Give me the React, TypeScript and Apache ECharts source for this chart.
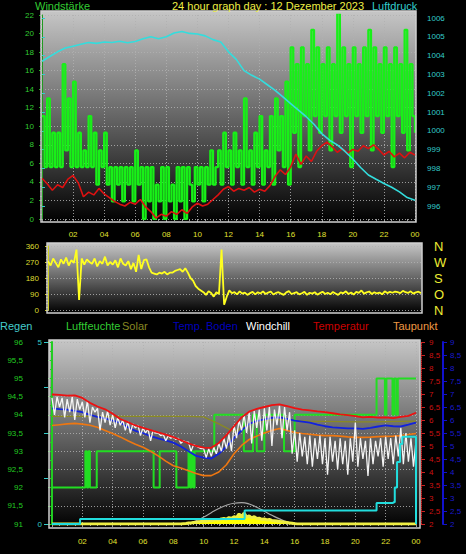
import { useEffect, useRef } from "react";
import * as echarts from "echarts";

const FONT = "'Liberation Sans', Arial, sans-serif";

const TITLE = "24 hour graph day : 12 Dezember 2023";
const X_LABELS = ["02", "04", "06", "08", "10", "12", "14", "16", "18", "20", "22", "00"];
const DIR_LABELS: Record<number, string> = { 0: "N", 90: "O", 180: "S", 270: "W", 360: "N" };

// Top panel: wind (Windstärke) every 10 min, from 00:00
const WIND_GUST = [
  11.1, 5.6, 13, 5.6, 9.3, 5.6,
  9.3, 5.6, 16.7, 7.4, 13, 5.6,
  14.8, 5.6, 9.3, 5.6, 7.4, 5.6,
  11.1, 5.6, 9.3, 3.7, 7.4, 5.6,
  9.3, 3.7, 5.6, 1.9, 5.6, 3.7,
  5.6, 1.9, 5.6, 3.7, 5.6, 1.9,
  7.4, 3.7, 5.6, 0, 5.6, 1.9,
  5.6, 0, 3.7, 1.9, 5.6, 0,
  5.6, 1.9, 3.7, 0, 5.6, 1.9,
  5.6, 0, 5.6, 3.7, 1.9, 5.6,
  3.7, 5.6, 1.9, 5.6, 3.7, 7.4,
  3.7, 5.6, 7.4, 3.7, 9.3, 5.6,
  7.4, 3.7, 9.3, 5.6, 7.4, 3.7,
  13, 5.6, 7.4, 3.7, 9.3, 5.6,
  11.1, 3.7, 7.4, 5.6, 11.1, 3.7,
  13, 7.4, 11.1, 5.6, 14.8, 3.7,
  18.5, 9.3, 16.7, 5.6, 18.5, 11.1,
  16.7, 7.4, 20.4, 11.1, 18.5, 9.3,
  16.7, 11.1, 18.5, 7.4, 16.7, 11.1,
  22.2, 9.3, 18.5, 11.1, 16.7, 5.6,
  18.5, 11.1, 16.7, 9.3, 18.5, 11.1,
  20.4, 7.4, 18.5, 11.1, 16.7, 9.3,
  18.5, 11.1, 16.7, 5.6, 18.5, 11.1,
  16.7, 9.3, 20.4, 7.4, 16.7, 11.1,
  9.3,
];
// average wind every 20 min
const WIND_AVG = [
  4.4, 3.8, 3.1, 3.7, 3.4, 4.3, 4.7, 3.9, 2.4, 2.9, 2.6, 3.3,
  2.7, 2.3, 1.9, 1.6, 1.4, 1.8, 1.6, 2.1, 1.3, 0.8, 0.1, 0.5,
  0.3, 0.8, 0.5, 1.0, 0.6, 1.3, 1.7, 1.4, 1.6, 2.1, 2.6, 3.2,
  3.5, 3.0, 3.3, 3.1, 3.4, 2.9, 3.2, 3.0, 3.6, 4.6, 5.3, 4.8,
  5.6, 7.0, 5.9, 6.8, 6.2, 7.3, 7.9, 8.3, 7.8, 7.2, 7.6, 7.1,
  7.5, 7.3, 7.9, 7.6, 8.0, 7.5, 6.9, 7.3, 6.7, 7.1, 6.6, 7.2,
  6.9,
];
// Luftdruck every 30 min
const PRESSURE = [
  1003.7, 1003.95, 1004.2, 1004.4, 1004.5, 1004.6, 1004.7, 1004.65, 1004.72, 1004.7,
  1004.76, 1004.68, 1004.75, 1004.9, 1005.0, 1004.9, 1005.0, 1005.2, 1005.28, 1005.18,
  1005.15, 1005.05, 1004.85, 1004.72, 1004.2, 1003.8, 1003.2, 1002.95, 1002.75, 1002.45,
  1002.15, 1001.8, 1001.45, 1001.1, 1000.75, 1000.35, 999.85, 999.5, 999.25, 998.9,
  998.5, 998.05, 997.65, 997.42, 997.2, 997.0, 996.75, 996.45, 996.3,
];
// Wind direction every 10 min
const WIND_DIR = [
  275, 250, 290, 265, 240, 285,
  260, 295, 250, 280, 265, 340,
  56, 290, 255, 285, 270, 260,
  290, 245, 275, 260, 300, 250,
  270, 255, 280, 240, 290, 260,
  250, 275, 230, 265, 215, 310,
  230, 280, 285, 240, 210, 205,
  200, 210, 205, 215, 200, 210,
  210, 220, 225, 230, 215, 235,
  210, 180, 165, 135, 120, 110,
  100, 85, 105, 95, 75, 100,
  90, 340, 30, 75, 110, 95,
  100, 88, 105, 92, 98, 85,
  95, 102, 88, 100, 93, 105,
  90, 98, 104, 87, 96, 100,
  92, 85, 99, 106, 90, 95,
  100, 88, 94, 102, 85, 97,
  92, 100, 86, 95, 103, 90,
  97, 88, 101, 93, 85, 99,
  94, 105, 90, 98, 87, 102,
  96, 110, 92, 99, 104, 90,
  100, 93, 98, 88, 105, 95,
  102, 97, 104, 100, 95, 108,
  100, 96, 105, 92, 99, 103,
  95,
];

// Bottom panel, temperatures every 30 min
const TEMPERATUR = [
  6.98, 6.97, 6.94, 6.95, 6.85, 6.66, 6.52, 6.41, 6.24, 6.04,
  5.92, 5.79, 5.7, 5.61, 5.52, 5.44, 5.34, 5.22, 5.1, 5.0,
  4.94, 4.93, 5.12, 5.42, 5.76, 6.1, 6.32, 6.43, 6.5, 6.57,
  6.6, 6.53, 6.46, 6.4, 6.37, 6.33, 6.3, 6.26, 6.22, 6.19,
  6.15, 6.1, 6.12, 6.09, 6.1, 6.07, 6.12, 6.16, 6.28,
];
const TEMP_BODEN = [
  6.45, 6.42, 6.4, 6.35, 6.3, 6.2, 6.12, 6.06, 5.98, 5.9,
  5.72, 5.58, 5.5, 5.38, 5.29, 5.22, 5.13, 4.98, 4.8, 4.62,
  4.55, 4.52, 4.7, 4.98, 5.3, 5.6, 5.85, 5.96, 6.02, 6.08,
  6.1, 6.04, 5.98, 5.94, 5.9, 5.82, 5.76, 5.72, 5.7, 5.68,
  5.68, 5.66, 5.7, 5.75, 5.79, 5.76, 5.75, 5.82, 5.9,
];
const TAUPUNKT = [
  5.79, 5.82, 5.85, 5.87, 5.84, 5.8, 5.72, 5.6, 5.48, 5.35,
  5.2, 5.07, 4.95, 4.8, 4.62, 4.42, 4.24, 4.15, 4.05, 3.94,
  3.86, 3.86, 4.0, 4.28, 4.7, 5.02, 5.25, 5.38, 5.5, 5.6,
  5.67, 5.6, 5.52, 5.48, 5.45, 5.42, 5.4, 5.4, 5.38, 5.35,
  5.33, 5.33, 5.34, 5.36, 5.37, 5.38, 5.4, 5.44, 5.48,
];
// Windchill every 10 min
const WINDCHILL = [
  6.85, 6.2, 6.9, 6.5, 6.85, 6.1,
  6.8, 6.3, 6.9, 6.0, 6.8, 6.4,
  6.7, 6.1, 6.75, 5.9, 6.5, 6.3,
  6.45, 5.6, 6.3, 5.9, 6.35, 5.8,
  6.2, 5.7, 6.1, 5.8, 6.0, 5.6,
  5.95, 5.5, 5.85, 5.7, 5.8, 5.4,
  5.7, 5.5, 5.65, 5.2, 5.6, 5.5,
  5.5, 5.4, 5.45, 5.2, 5.4, 5.3,
  5.35, 5.25, 5.3, 5.1, 5.2, 5.15,
  5.15, 4.8, 5.05, 5.0, 4.95, 4.9,
  4.9, 4.55, 4.9, 4.6, 4.95, 4.7,
  5.1, 4.8, 5.3, 4.9, 5.45, 4.8,
  5.8, 5.3, 6.0, 5.6, 6.2, 5.5,
  6.3, 5.1, 6.35, 5.7, 6.4, 5.2,
  6.45, 5.6, 6.5, 5.0, 6.4, 5.8,
  6.55, 5.3, 6.5, 5.6, 6.3, 4.7,
  5.6, 4.4, 5.5, 4.6, 5.35, 4.3,
  5.4, 4.2, 5.3, 4.5, 5.4, 4.3,
  5.3, 3.9, 5.35, 4.4, 5.2, 4.1,
  5.3, 4.3, 5.2, 3.9, 5.3, 4.4,
  5.9, 4.2, 5.3, 4.5, 5.2, 3.85,
  5.3, 4.3, 5.2, 4.6, 5.3, 4.2,
  5.35, 4.5, 5.3, 4.3, 5.4, 4.6,
  5.7, 4.3, 5.5, 4.4, 5.3, 4.2,
  5.2,
];
// olive line, hourly
const SOLAR_LINE = [
  6.14, 6.14, 6.14, 6.14, 6.14, 6.14, 6.14, 6.14, 6.14, 6.14,
  6.12, 5.85, 5.55, 5.85, 5.98, 6.02, 5.98, 5.96, 5.95, 5.94,
  5.93, 5.93, 5.94, 5.95, 5.96,
];
// Luftfeuchte change points [hour] -> value
const HUM_T = [0, 2.2, 2.3, 2.4, 2.5, 2.95, 6.7, 7.1, 8.2, 9.0, 9.1, 9.2, 9.3, 9.4, 10.7, 12.65, 13.25, 13.5, 14.0, 15.3, 16.0, 21.4, 21.95, 22.05, 22.45, 22.55, 22.7, 22.8, 24];
const HUM_V = [92, 93, 92, 93, 92, 93, 92, 93, 92, 93, 92, 93, 92, 93, 94, 93, 94, 93, 94, 93, 94, 95, 94, 95, 94, 95, 94, 95, 95];
// Regen change points
const RAIN_T = [0, 1.85, 12.7, 21.4, 22.5, 22.6, 22.75, 22.95, 23.1, 23.95, 24];
const RAIN_V = [0, 0.14, 0.37, 0.58, 0.6, 1.0, 1.7, 2.2, 2.4, 2.4, 0];
// Solar radiation from 08:30 every 10 min (W/m²)
const SOLAR_START = 8.5;
const SOLAR = [
  0, 2, 3, 5, 6, 8, 10, 12, 14, 16, 15, 20,
  18, 22, 25, 22, 28, 30, 26, 35, 32, 40, 36, 55,
  42, 60, 38, 45, 34, 40, 30, 32, 26, 28, 22, 25,
  20, 18, 16, 14, 12, 10, 8, 6, 4, 2, 0,
];
// theoretical max solar from 08:30 every 30 min
const SOLAR_MAX = [0, 4, 18, 38, 62, 85, 103, 114, 117, 110, 92, 70, 48, 28, 12, 2, 0];

const pts = (vals: number[], start: number, step: number) => vals.map((v, i) => [start + i * step, v]);
const zip = (t: number[], v: number[]) => t.map((x, i) => [x, v[i]]);
const comma = (v: number) => String(v).replace(".", ",");
const plain = (v: number) => String(v);

const DOT = { color: "#b0b0b0", type: [1, 2] as any, width: 1, opacity: 0.85 };

function xAxis(gridIndex: number, show: boolean, margin: number, split: boolean) {
  return {
    type: "value", gridIndex, min: 0, max: 24, interval: 2, show,
    axisLine: { show: false },
    axisTick: { show: true, length: 3, lineStyle: { color: "#9a9a9a" } },
    minorTick: { show: true, splitNumber: 4, length: 2, lineStyle: { color: "#9a9a9a" } },
    axisLabel: {
      color: "#e0e030", fontSize: 8, fontFamily: FONT, margin,
      formatter: (v: number) => (v > 0 ? X_LABELS[v / 2 - 1] : ""),
    },
    splitLine: { show: split, lineStyle: DOT },
  };
}

export default function App() {
  const ref = useRef<HTMLDivElement>(null);
  useEffect(() => {
    const chart = echarts.init(ref.current!, null, { renderer: "svg" });
    const grad = () =>
      new echarts.graphic.LinearGradient(0, 0, 0, 1, [
        { offset: 0, color: "#c6c6c6" },
        { offset: 0.55, color: "#5c5c5c" },
        { offset: 1, color: "#000000" },
      ]);
    const bg = (x: number, y: number, w: number, h: number) => ({
      type: "rect", z: -10, silent: true, shape: { x, y, width: w, height: h }, style: { fill: grad() },
    });
    const frame = (x: number, y: number, w: number, h: number) => ({
      type: "rect", z: 50, silent: true, shape: { x, y, width: w, height: h },
      style: { fill: "none", stroke: "#cfcfcf", lineWidth: 1.5 },
    });
    const txt = (text: string, x: number, y: number, color: string, size = 11) => ({
      type: "text", x, y, silent: true, z: 60,
      style: { text, fill: color, font: `${size}px ${FONT}`, textAlign: "left", textVerticalAlign: "middle", align: "left", verticalAlign: "middle" },
    });

    const lineS = (name: string, xi: number, yi: number, data: any[], color: string, width: number, extra: any = {}) => ({
      name, type: "line", xAxisIndex: xi, yAxisIndex: yi, data, showSymbol: false, symbol: "none",
      silent: true, lineStyle: { color, width }, itemStyle: { color }, ...extra,
    });

    const option: any = {
      animation: false,
      backgroundColor: "#000000",
      textStyle: { fontFamily: FONT },
      grid: [
        { left: 42, top: 15, width: 373, height: 204, outerBoundsMode: "none", containLabel: false },
        { left: 42, top: 18, width: 373, height: 188, outerBoundsMode: "none", containLabel: false },
        { left: 48, top: 246, width: 373, height: 64, outerBoundsMode: "none", containLabel: false },
        { left: 52, top: 342, width: 364, height: 182, outerBoundsMode: "none", containLabel: false },
      ],
      xAxis: [
        xAxis(0, true, 11, true),
        { ...xAxis(1, false, 0, false) },
        { ...xAxis(2, false, 0, false) },
        xAxis(3, true, 13, true),
      ],
      yAxis: [
        {
          type: "value", gridIndex: 0, min: 0, max: 22, interval: 2, position: "left", offset: 2,
          axisLine: { show: true, lineStyle: { color: "#229922", width: 1 } },
          axisTick: { show: true, length: 3, lineStyle: { color: "#22aa22" } },
          minorTick: { show: true, splitNumber: 4, length: 2, lineStyle: { color: "#229922" } },
          axisLabel: { color: "#33cc33", fontSize: 8, fontFamily: FONT, margin: 6, formatter: plain },
          splitLine: { show: true, lineStyle: DOT },
        },
        {
          type: "value", gridIndex: 1, min: 996, max: 1006, interval: 1, position: "right", offset: 4,
          axisLine: { show: false },
          axisTick: { show: true, length: 3, lineStyle: { color: "#33cccc" } },
          axisLabel: { color: "#33cccc", fontSize: 8, fontFamily: FONT, margin: 8, formatter: plain },
          splitLine: { show: false },
        },
        {
          type: "value", gridIndex: 2, min: 0, max: 360, interval: 90, position: "left", offset: 3,
          axisLine: { show: true, lineStyle: { color: "#cccc22", width: 1 } },
          axisTick: { show: true, length: 3, lineStyle: { color: "#cccc22" } },
          minorTick: { show: true, splitNumber: 5, length: 2, lineStyle: { color: "#aaaa22" } },
          axisLabel: { color: "#dddd30", fontSize: 8, fontFamily: FONT, margin: 6, formatter: plain },
          splitLine: { show: true, lineStyle: DOT },
        },
        {
          type: "value", gridIndex: 2, min: 0, max: 360, interval: 90, position: "right", offset: 0,
          axisLine: { show: false }, axisTick: { show: false },
          axisLabel: { color: "#eeee33", fontSize: 13, fontFamily: FONT, margin: 13, formatter: (v: number) => DIR_LABELS[v] ?? "" },
          splitLine: { show: false },
        },
        {
          type: "value", gridIndex: 3, min: 91, max: 96, interval: 0.5, position: "left", offset: 22,
          axisLine: { show: true, lineStyle: { color: "#22cc22", width: 2 } },
          axisTick: { show: true, length: 4, lineStyle: { color: "#22cc22" } },
          minorTick: { show: true, splitNumber: 2, length: 2, lineStyle: { color: "#22cc22" } },
          axisLabel: { color: "#22cc22", fontSize: 8, fontFamily: FONT, margin: 7, formatter: comma },
          splitLine: { show: true, lineStyle: DOT },
        },
        {
          type: "value", gridIndex: 3, min: 0, max: 5, interval: 1.25, position: "left", offset: 4,
          axisLine: { show: false },
          axisTick: { show: true, length: 4, lineStyle: { color: "#33cccc" } },
          axisLabel: { color: "#33cccc", fontSize: 8, fontFamily: FONT, margin: 6, formatter: (v: number) => (v === 0 || v === 5 ? String(v) : "") },
          splitLine: { show: false },
        },
        {
          type: "value", gridIndex: 3, min: 2, max: 9, interval: 0.5, position: "right", offset: 5,
          axisLine: { show: true, lineStyle: { color: "#cc2222", width: 1, type: "dotted" } },
          axisTick: { show: true, length: 4, lineStyle: { color: "#cc2222" } },
          axisLabel: { color: "#cc1111", fontSize: 8, fontFamily: FONT, margin: 8, formatter: comma },
          splitLine: { show: false },
        },
        {
          type: "value", gridIndex: 3, min: 2, max: 9, interval: 0.5, position: "right", offset: 27,
          axisLine: { show: true, lineStyle: { color: "#1111cc", width: 2 } },
          axisTick: { show: true, length: 4, lineStyle: { color: "#1111cc" } },
          axisLabel: { color: "#1a1acc", fontSize: 8, fontFamily: FONT, margin: 7, formatter: comma },
          splitLine: { show: false },
        },
        { type: "value", gridIndex: 3, min: 0, max: 1000, show: false, splitLine: { show: false } },
      ],
      series: [
        lineS("Windböen", 0, 0, pts(WIND_GUST, 0, 1 / 6), "#18f018", 2.3, { step: "end" }),
        lineS("Wind", 0, 0, pts(WIND_AVG, 0, 1 / 3), "#dd1111", 1.6),
        lineS("Luftdruck", 1, 1, pts(PRESSURE, 0, 0.5), "#33dddd", 1.6),
        lineS("Windrichtung", 2, 2, pts(WIND_DIR, 0, 1 / 6), "#ffff20", 1.8),
        lineS("SolarMax", 3, 8, pts(SOLAR_MAX, SOLAR_START, 0.5), "#a8a8a8", 1.2, { smooth: true }),
        lineS("Solar", 3, 8, [[0, 0], ...pts(SOLAR, SOLAR_START, 1 / 6), [24, 0]], "#eeee44", 3, {
          areaStyle: { color: "#ffff00", opacity: 1 },
        }),
        lineS("Luftfeuchte", 3, 4, zip(HUM_T, HUM_V), "#22dd22", 2, { step: "end" }),
        lineS("SolarLinie", 3, 6, pts(SOLAR_LINE, 0, 1), "#8a8a20", 1.2),
        lineS("Taupunkt", 3, 6, pts(TAUPUNKT, 0, 0.5), "#ee7711", 1.6),
        lineS("Temp. Boden", 3, 7, pts(TEMP_BODEN, 0, 0.5), "#1122dd", 1.8),
        lineS("Windchill", 3, 6, pts(WINDCHILL, 0, 1 / 6), "#f4f4f4", 1.3),
        lineS("Temperatur", 3, 6, pts(TEMPERATUR, 0, 0.5), "#ee1111", 1.8),
        lineS("Regen", 3, 5, zip(RAIN_T, RAIN_V), "#22dddd", 2, { step: "end" }),
      ],
      graphic: {
        elements: [
          bg(41, 11, 375, 211),
          bg(47, 243, 375, 70),
          bg(49, 340, 371, 188),
          frame(41, 11, 375, 211),
          frame(47, 243, 375, 70),
          frame(49, 340, 371, 188),
          txt("Windstärke", 35, 6, "#33cc33"),
          txt(TITLE, 172, 6, "#eeee44"),
          txt("Luftdruck", 372, 6, "#33cccc"),
          txt("Regen", 0, 326, "#44cccc"),
          txt("Luftfeuchte", 66, 326, "#33cc33"),
          txt("Solar", 122, 326, "#888822"),
          txt("Temp. Boden", 173, 326, "#0000bb"),
          txt("Windchill", 246, 326, "#ffffff"),
          txt("Temperatur", 313, 326, "#cc0000"),
          txt("Taupunkt", 393, 326, "#ee9944"),
        ],
      },
    };
    chart.setOption(option);
    return () => chart.dispose();
  }, []);
  return (
    <div
      ref={ref}
      style={{ position: "absolute", left: 0, top: 0, width: 466, height: 554, background: "#000" }}
    />
  );
}
